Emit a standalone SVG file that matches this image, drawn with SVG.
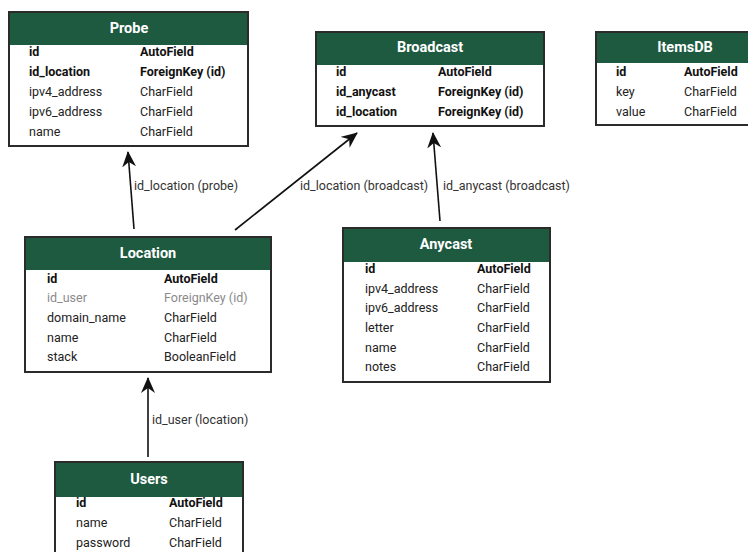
<svg xmlns="http://www.w3.org/2000/svg" width="748" height="552" viewBox="0 0 748 552">
  <style>
    .box { fill: #ffffff; stroke: #2b2b2b; stroke-width: 2; }
    .head { fill: #1d5a40; }
    .title { font-family: Roboto, "Liberation Sans", sans-serif; font-size: 14.5px; font-weight: bold; fill: #ffffff; text-anchor: middle; }
    .f { font-family: Roboto, "Liberation Sans", sans-serif; font-size: 12.5px; fill: #222222; }
    .b { font-weight: bold; fill: #111111; }
    .muted { fill: #8a8a8a; }
    .edge { fill: none; stroke: #111111; stroke-width: 1.6; }
    .lbl { font-family: Roboto, "Liberation Sans", sans-serif; font-size: 12.5px; fill: #333333; }
  </style>
  <defs>
    <marker id="arrow" viewBox="0 0 16 14" refX="15" refY="7" markerWidth="16" markerHeight="14" markerUnits="userSpaceOnUse" orient="auto">
      <path d="M0,0 L16,7 L0,14 L5,7 Z" fill="#111111"/>
    </marker>
  </defs>

  <rect width="748" height="552" fill="#ffffff"/>

  <!-- Probe -->
  <g id="probe">
    <rect class="box" x="9" y="12" width="239" height="134"/>
    <rect class="head" x="10" y="13" width="237" height="32"/>
    <text class="title" x="129" y="33">Probe</text>
    <text class="f b" x="29" y="56">id</text><text class="f b" x="140" y="56">AutoField</text>
    <text class="f b" x="29" y="76">id_location</text><text class="f b" x="140" y="76">ForeignKey (id)</text>
    <text class="f" x="29" y="96">ipv4_address</text><text class="f" x="140" y="96">CharField</text>
    <text class="f" x="29" y="116">ipv6_address</text><text class="f" x="140" y="116">CharField</text>
    <text class="f" x="29" y="136">name</text><text class="f" x="140" y="136">CharField</text>
  </g>

  <!-- Broadcast -->
  <g id="broadcast">
    <rect class="box" x="316" y="32" width="228" height="94"/>
    <rect class="head" x="317" y="33" width="226" height="32"/>
    <text class="title" x="430" y="52">Broadcast</text>
    <text class="f b" x="336" y="76">id</text><text class="f b" x="438" y="76">AutoField</text>
    <text class="f b" x="336" y="96">id_anycast</text><text class="f b" x="438" y="96">ForeignKey (id)</text>
    <text class="f b" x="336" y="116">id_location</text><text class="f b" x="438" y="116">ForeignKey (id)</text>
  </g>

  <!-- ItemsDB -->
  <g id="itemsdb">
    <rect class="box" x="596" y="32" width="180" height="93"/>
    <rect class="head" x="597" y="33" width="178" height="30"/>
    <text class="title" x="685" y="52">ItemsDB</text>
    <text class="f b" x="616" y="76">id</text><text class="f b" x="684" y="76">AutoField</text>
    <text class="f" x="616" y="96">key</text><text class="f" x="684" y="96">CharField</text>
    <text class="f" x="616" y="116">value</text><text class="f" x="684" y="116">CharField</text>
  </g>

  <!-- Location -->
  <g id="location">
    <rect class="box" x="25" y="237" width="246" height="135"/>
    <rect class="head" x="26" y="238" width="244" height="32"/>
    <text class="title" x="148" y="258">Location</text>
    <text class="f b" x="47" y="283">id</text><text class="f b" x="164" y="283">AutoField</text>
    <text class="f muted" x="47" y="302">id_user</text><text class="f muted" x="164" y="302">ForeignKey (id)</text>
    <text class="f" x="47" y="322">domain_name</text><text class="f" x="164" y="322">CharField</text>
    <text class="f" x="47" y="342">name</text><text class="f" x="164" y="342">CharField</text>
    <text class="f" x="47" y="361">stack</text><text class="f" x="164" y="361">BooleanField</text>
  </g>

  <!-- Anycast -->
  <g id="anycast">
    <rect class="box" x="343" y="228" width="207" height="154"/>
    <rect class="head" x="344" y="229" width="205" height="33"/>
    <text class="title" x="446" y="249">Anycast</text>
    <text class="f b" x="365" y="273">id</text><text class="f b" x="477" y="273">AutoField</text>
    <text class="f" x="365" y="293">ipv4_address</text><text class="f" x="477" y="293">CharField</text>
    <text class="f" x="365" y="312">ipv6_address</text><text class="f" x="477" y="312">CharField</text>
    <text class="f" x="365" y="332">letter</text><text class="f" x="477" y="332">CharField</text>
    <text class="f" x="365" y="352">name</text><text class="f" x="477" y="352">CharField</text>
    <text class="f" x="365" y="371">notes</text><text class="f" x="477" y="371">CharField</text>
  </g>

  <!-- Users -->
  <g id="users">
    <rect class="box" x="55" y="462" width="188" height="100"/>
    <rect class="head" x="56" y="463" width="186" height="34"/>
    <text class="title" x="149" y="484">Users</text>
    <text class="f b" x="76" y="507">id</text><text class="f b" x="169" y="507">AutoField</text>
    <text class="f" x="76" y="527">name</text><text class="f" x="169" y="527">CharField</text>
    <text class="f" x="76" y="547">password</text><text class="f" x="169" y="547">CharField</text>
  </g>

  <!-- Relations -->
  <g id="connectors">
    <line class="edge" x1="134" y1="229" x2="128" y2="152" marker-end="url(#arrow)"/>
    <text class="lbl" x="134" y="190">id_location (probe)</text>

    <line class="edge" x1="235" y1="230" x2="357" y2="133" marker-end="url(#arrow)"/>
    <text class="lbl" x="300" y="190">id_location (broadcast)</text>

    <line class="edge" x1="440" y1="221" x2="433" y2="133" marker-end="url(#arrow)"/>
    <text class="lbl" x="443" y="190">id_anycast (broadcast)</text>

    <line class="edge" x1="148" y1="457" x2="148" y2="378" marker-end="url(#arrow)"/>
    <text class="lbl" x="152" y="424">id_user (location)</text>
  </g>
</svg>
